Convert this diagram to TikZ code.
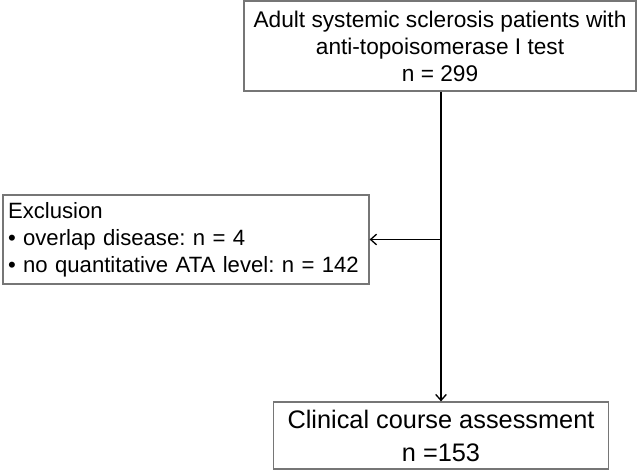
\documentclass[tikz,border=0pt]{standalone}
\usepackage{fontspec}
\setmainfont{Liberation Sans}
\usetikzlibrary{arrows.meta}

\begin{document}
\frenchspacing
\begin{tikzpicture}[x=0.75pt,y=0.75pt,yscale=-1,xscale=1]
        \useasboundingbox (0,0) rectangle (642,473);
        \tikzset{
            flowbox/.style={draw={rgb, 255:red, 118; green, 118; blue, 118 }, line width=0.9pt, inner sep=0.75pt},
            flowline/.style={draw={rgb, 255:red, 0; green, 0; blue, 0 }, line width=1pt, -{Straight Barb[length=4.5pt,width=8pt,line width=1pt]}}
        }
        % Text Node
        \node (patients) [flowbox, minimum width=294pt, minimum height=67.5pt, align=center, font=\fontsize{17}{20.25}\selectfont] at (440,46) {Adult systemic sclerosis patients with\\anti-topoisomerase I test\\n = 299};
        % Text Node
        \node (exclusion) [flowbox, minimum width=274.5pt, minimum height=66.75pt, align=left, font=\fontsize{16.6}{20.25}\selectfont, text width=267pt] at (186,239.5) {Exclusion\\• overlap disease: n = 4\\• no quantitative ATA level: n = 142};
        % Text Node
        \node (course) [flowbox, minimum width=251.25pt, minimum height=50.25pt, align=center, font=\fontsize{19}{24.75}\selectfont] at (441,435.5) {Clinical course assessment\\n =153};
        %Straight Lines
        \coordinate (split) at (patients.south -| course.north);
        \coordinate (branch) at (split |- exclusion.east);
        \draw [flowline] (split) -- (course.north);
        \draw [flowline] (branch) -- (exclusion.east);
    \end{tikzpicture}
\end{document}
